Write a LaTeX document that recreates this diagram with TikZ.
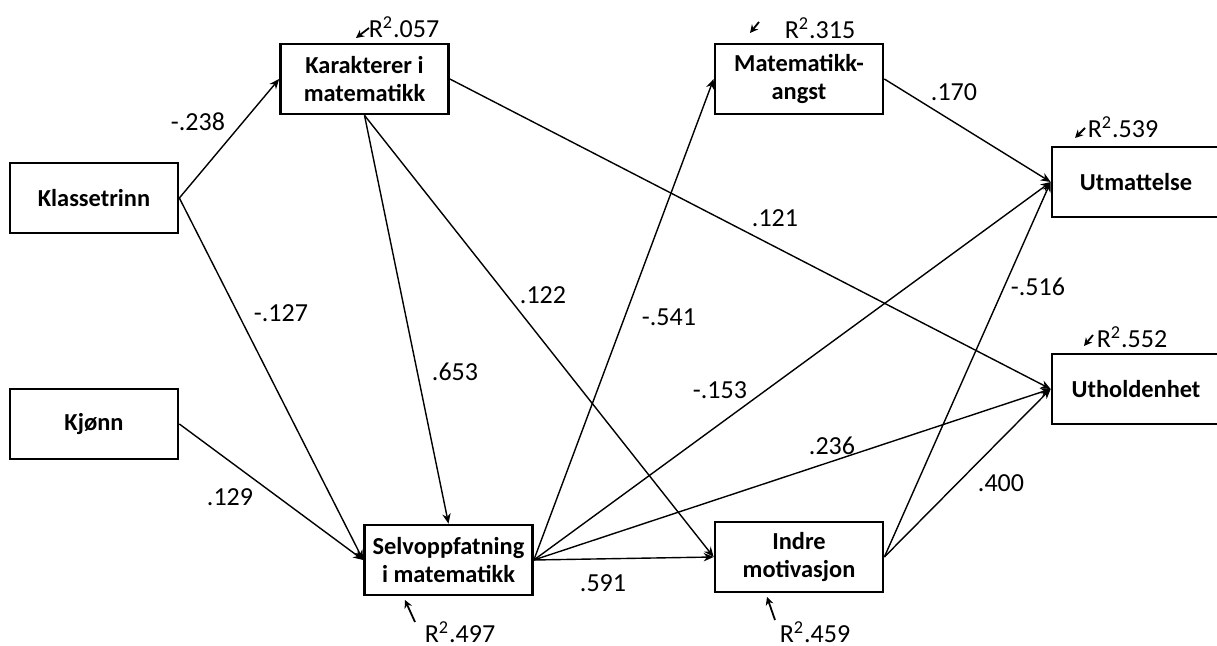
\documentclass[tikz,border=0pt]{standalone}
\usepackage{fontspec}
\setmainfont{Carlito}
\usetikzlibrary{arrows.meta}
\tikzset{
  box/.style={draw, line width=1.35pt, minimum width=84pt, minimum height=35pt,
    align=center, inner sep=1pt, font=\fontsize{12.2}{14}\selectfont\bfseries},
  conn/.style={line width=0.7pt, -{Stealth[length=5pt,width=4.2pt]}},
  coef/.style={inner sep=0pt, font=\fontsize{13}{15}\selectfont},
  rsq/.style={inner sep=0pt, font=\fontsize{13}{15}\selectfont},
  rarr/.style={line width=0.9pt, -{Stealth[length=4pt,width=4pt]}}
}
\begin{document}
\begin{tikzpicture}[x=0.5pt,y=-0.5pt]
\useasboundingbox (0,0) rectangle (1217,646);
% boxes
\node[box] (K) at (94,198) {Klassetrinn};
\node[box] (G) at (94,424) {Kjønn};
\node[box] (Kar) at (364.5,79) {Karakterer i\\matematikk};
\node[box] (S) at (448.5,560) {Selvoppfatning\\i matematikk};
\node[box] (A) at (799,79) {Matematikk-\\angst};
\node[box] (I) at (799,557) {Indre\\motivasjon};
\node[box] (U1) at (1136,182) {Utmattelse};
\node[box] (U2) at (1136,389) {Utholdenhet};
% connectors
\draw[conn] (K.east) -- (Kar.west);
\draw[conn] (K.east) -- (S.west);
\draw[conn] (G.east) -- (S.west);
\draw[conn] (Kar.south) -- (S.north);
\draw[conn] (Kar.south) -- (I.west);
\draw[conn] (Kar.east) -- (U2.west);
\draw[conn] (S.east) -- (A.west);
\draw[conn] (S.east) -- (U1.west);
\draw[conn] (S.east) -- (U2.west);
\draw[conn] (S.east) -- (I.west);
\draw[conn] (A.east) -- (U1.west);
\draw[conn] (I.east) -- (U1.west);
\draw[conn] (I.east) -- (U2.west);
% coefficients
\node[coef] (c1) at (198,122) {-.238};
\node[coef] (c2) at (281,313) {-.127};
\node[coef] (c3) at (543,295) {.122};
\node[coef] (c4) at (455,372) {.653};
\node[coef] (c5) at (230,497) {.129};
\node[coef] (c6) at (603,583) {.591};
\node[coef] (c7) at (775,218) {.121};
\node[coef] (c8) at (954,92) {.170};
\node[coef] (c9) at (669,317) {-.541};
\node[coef] (c10) at (1038,287) {-.516};
\node[coef] (c11) at (720,390) {-.153};
\node[coef] (c12) at (832,446) {.236};
\node[coef] (c13) at (1001,483) {.400};
% R squared
\node[rsq] (r1) at (404,27) {R\textsuperscript{2}.057};
\node[rsq] (r2) at (820,28) {R\textsuperscript{2}.315};
\node[rsq] (r3) at (1123,127) {R\textsuperscript{2}.539};
\node[rsq] (r4) at (1132,337) {R\textsuperscript{2}.552};
\node[rsq] (r5) at (460,632) {R\textsuperscript{2}.497};
\node[rsq] (r6) at (815,632) {R\textsuperscript{2}.459};
\coordinate (a1s) at (369,28);  \coordinate (a1e) at (356,38);
\coordinate (a2s) at (759,22);  \coordinate (a2e) at (750,33);
\coordinate (a3s) at (1085,128); \coordinate (a3e) at (1075,138);
\coordinate (a4s) at (1093,335); \coordinate (a4e) at (1084,346);
\coordinate (a5s) at (415,622); \coordinate (a5e) at (405,600);
\coordinate (a6s) at (775,620); \coordinate (a6e) at (767,597);
\draw[rarr] (a1s) -- (a1e);
\draw[rarr] (a2s) -- (a2e);
\draw[rarr] (a3s) -- (a3e);
\draw[rarr] (a4s) -- (a4e);
\draw[rarr] (a5s) -- (a5e);
\draw[rarr] (a6s) -- (a6e);
\end{tikzpicture}
\end{document}
